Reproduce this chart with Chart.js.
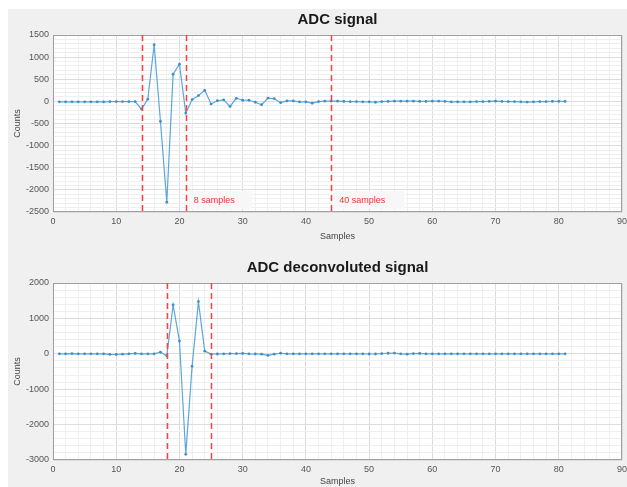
<!DOCTYPE html>
<html lang="en">
<head>
  <meta charset="UTF-8" />
  <title>ADC signal</title>
  <script src="https://cdn.jsdelivr.net/npm/chart.js"></script>
  <style>
    html, body { margin: 0; padding: 0; background: #fff; }
    .fig {
      position: absolute; left: 8px; top: 9px;
      width: 619px; height: 478px; background: #f0f0f0;
    }
    .box { position: absolute; left: 0; width: 627px; }
    #top-box { top: 0; height: 245px; }
    #bot-box { top: 245px; height: 242px; }
  </style>
</head>
<body>
  <div class="fig"></div>
  <div class="box" id="top-box"><canvas id="adcChart"></canvas></div>
  <div class="box" id="bot-box"><canvas id="deconvChart"></canvas></div>

  <script>
    // samples 1..81
    const samples = Array.from({ length: 81 }, (_, i) => i + 1);

    const adcCounts = [
      -10, -10, -10, -10, -10, -10, -10, -10, -5, -5, -5, -5, -5,
      -175, 50, 1280, -455, -2280, 615, 840, -265, 40, 130, 250, -60,
      15, 35, -115, 70, 25, 25, -20, -75, 75, 60, -30, 10, 10, -10, -10,
      -40, -5, 5, 5, 5, 0, -5, -5, -10, -10, -20, -5, 0, 5, 5, 5, 5, 0,
      0, 5, 5, 0, -10, -10, -10, -10, -5, -5, 0, 5, 0, -5, -5, -10, -15,
      -10, -5, -5, 0, 0, 0
    ];

    const deconvCounts = [
      0, 0, 5, 0, 0, 0, 0, 0, -15, -20, -10, 0, 10, 0, 0, 0,
      45, -55, 1380, 360, -2840, -355, 1475, 75, -10, -5, 0, 5, 5, 10,
      0, -5, -10, -45, -10, 15, 0, 0, 0, 0, 0, 0, 0, 0, 0, 0, 0, 0, 0,
      -5, -5, 5, 15, 20, 0, -10, 5, 10, 0, 0, 0, 0, 0, 0, 0, 0, 0, 0,
      0, 0, 0, 0, 0, 0, 0, 0, 0, 0, 0, 0, 0
    ];

    const adcMarkers = [14, 21, 44];
    const adcNotes = [
      { at: 21, text: '8 samples' },
      { at: 44, text: '40 samples' }
    ];
    const deconvMarkers = [18, 25];

    const FONT = '"Liberation Sans", Arial, sans-serif';

    // white plot area, box outline, title over the axes, dashed markers and notes
    const matlabAxes = {
      id: 'matlabAxes',
      beforeDraw(chart) {
        const a = chart.chartArea, ctx = chart.ctx;
        ctx.save();
        ctx.fillStyle = '#ffffff';
        ctx.fillRect(a.left, a.top, a.right - a.left, a.bottom - a.top);
        ctx.restore();
      },
      afterDatasetsDraw(chart, args, opts) {
        const a = chart.chartArea, ctx = chart.ctx;
        const xs = chart.scales.x;
        ctx.save();
        ctx.strokeStyle = '#a0a0a0';
        ctx.lineWidth = 1;
        ctx.strokeRect(a.left + 0.5, a.top + 0.5, a.right - a.left - 1, a.bottom - a.top - 1);

        ctx.fillStyle = '#1a1a1a';
        ctx.font = 'bold 15px ' + FONT;
        ctx.textAlign = 'center';
        ctx.textBaseline = 'middle';
        ctx.fillText(opts.title, (a.left + a.right) / 2, opts.titleY);

        ctx.textAlign = 'left';
        (opts.notes || []).forEach(n => {
          const px = xs.getPixelForValue(n.at);
          ctx.fillStyle = '#f7f7f7';
          ctx.fillRect(px + 3, a.bottom - 21, n.text.length * 7, 18);
          ctx.fillStyle = '#ff3030';
          ctx.font = '9px ' + FONT;
          ctx.fillText(n.text, px + 8, a.bottom - 11);
        });

        ctx.strokeStyle = '#ff4040';
        ctx.lineWidth = 1.5;
        ctx.setLineDash([6, 4]);
        (opts.lines || []).forEach(v => {
          const px = Math.round(xs.getPixelForValue(v)) + 0.5;
          ctx.beginPath();
          ctx.moveTo(px, a.top);
          ctx.lineTo(px, a.bottom);
          ctx.stroke();
        });
        ctx.restore();
      }
    };

    function makeChart(id, title, values, yMin, yMax, yMinor, yMajor, lines, notes, top, titleY, xHeight, padBottom) {
      const ctx = document.getElementById(id).getContext('2d');
      return new Chart(ctx, {
        type: 'line',
        data: {
          datasets: [{
            data: samples.map((s, i) => ({ x: s, y: values[i] })),
            borderColor: '#5aa8dc',
            backgroundColor: '#3d8fcc',
            borderWidth: 1.2,
            pointRadius: 1.4,
            pointBorderWidth: 0,
            tension: 0
          }]
        },
        options: {
          responsive: true,
          maintainAspectRatio: false,
          animation: false,
          layout: { padding: { left: 8, right: 5, top: top, bottom: padBottom } },
          plugins: {
            legend: { display: false },
            tooltip: { enabled: false },
            title: { display: false },
            matlabAxes: { lines: lines, notes: notes, title: title, titleY: titleY }
          },
          scales: {
            x: {
              type: 'linear',
              min: 0, max: 90,
              afterFit(s) { s.height = xHeight; s.paddingLeft = 0; s.paddingRight = 0; },
              ticks: {
                stepSize: 2,
                autoSkip: false,
                maxRotation: 0,
                padding: 4,
                color: '#555',
                font: { family: FONT, size: 9 },
                callback: v => (v % 10 === 0 ? v : '')
              },
              grid: {
                drawTicks: false,
                color: c => (c.tick && c.tick.value % 10 === 0 ? '#dcdcdc' : '#efefef')
              },
              border: { display: false },
              title: {
                display: true, text: 'Samples', color: '#444',
                font: { family: FONT, size: 9 }, padding: { top: 2, bottom: 0 }
              }
            },
            y: {
              min: yMin, max: yMax,
              afterFit(s) { s.width = 45; s.paddingTop = 0; s.paddingBottom = 0; },
              ticks: {
                stepSize: yMinor,
                autoSkip: false,
                padding: 4,
                color: '#555',
                font: { family: FONT, size: 9 },
                callback: v => (v % yMajor === 0 ? v : '')
              },
              grid: {
                drawTicks: false,
                color: c => (c.tick && c.tick.value % yMajor === 0 ? '#dcdcdc' : '#efefef')
              },
              border: { display: false },
              title: {
                display: true, text: 'Counts', color: '#444',
                font: { family: FONT, size: 9 }, padding: { top: 4, bottom: 0 }
              }
            }
          }
        },
        plugins: [matlabAxes]
      });
    }

    makeChart('adcChart', 'ADC signal', adcCounts, -2500, 1500, 100, 500,
      adcMarkers, adcNotes, 35, 20, 30, 3);
    makeChart('deconvChart', 'ADC deconvoluted signal', deconvCounts, -3000, 2000, 200, 1000,
      deconvMarkers, [], 38, 23, 27, 0);
  </script>
</body>
</html>
